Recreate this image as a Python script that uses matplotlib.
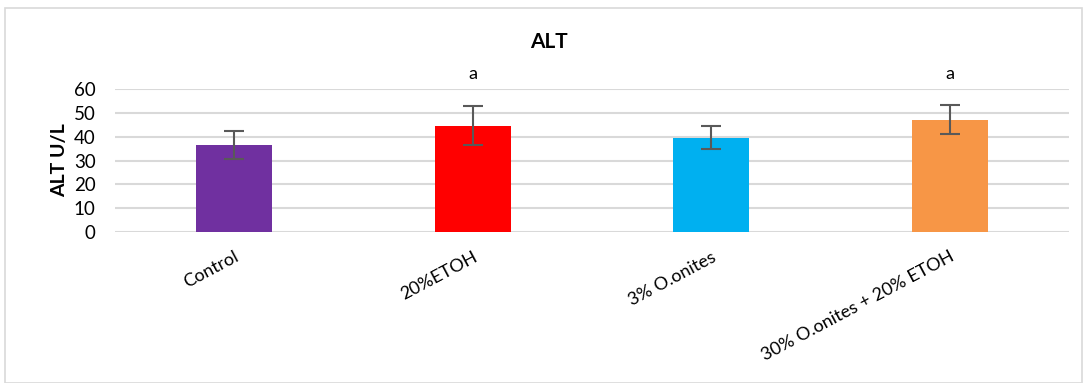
import matplotlib.pyplot as plt
from matplotlib.patches import Rectangle

# data
groups = ["Control", "20%ETOH", "3% O.onites", "30% O.onites + 20% ETOH"]
alt_mean = [36.4, 44.6, 39.6, 47.2]
alt_err = [5.8, 8.2, 4.7, 6.0]
sig_marks = ["", "a", "", "a"]
bar_colors = ["#7030a0", "#ff0000", "#00b0f0", "#f79646"]

plt.rcParams['font.family'] = ['Lato', 'DejaVu Sans']

fig = plt.figure(figsize=(10.89, 3.83), dpi=100)
ax = fig.add_axes([0.1056, 0.394, 0.876, 0.3736])

# outer chart border like the Excel chart area
fig.patches.append(Rectangle((0.005, 0.0), 0.989, 0.978, transform=fig.transFigure,
                             fill=False, edgecolor="#d9d9d9", linewidth=1.2))

x = range(len(groups))
ax.bar(x, alt_mean, width=0.32, color=bar_colors, zorder=3)
ax.errorbar(x, alt_mean, yerr=alt_err, fmt="none", ecolor="#595959",
            elinewidth=1.5, capsize=7, capthick=1.5, zorder=4)

# significance letters above bars
for i, s in enumerate(sig_marks):
    if s:
        ax.text(i, 63, s, ha="center", va="bottom", fontsize=13, clip_on=False)

ax.set_xlim(-0.5, len(groups) - 0.5)
ax.set_ylim(0, 60)
ax.set_yticks(range(0, 61, 10))
ax.yaxis.grid(True, color="#d9d9d9", linewidth=1.5, zorder=0)
ax.set_axisbelow(True)
for sp in ax.spines.values():
    sp.set_visible(False)
ax.tick_params(axis="y", length=0, labelsize=13.5, pad=14)

ax.set_xticks(list(x))
ax.set_xticklabels(groups, rotation=28, ha="right", va="top", rotation_mode="anchor")
ax.tick_params(axis="x", length=0, labelsize=13, pad=12)

ax.set_ylabel("ALT U/L", fontsize=14, fontweight="bold", labelpad=4)
fig.text(0.504, 0.89, "ALT", ha="center", va="center", fontsize=15, fontweight="bold")

fig.savefig("out.png", dpi=100)
